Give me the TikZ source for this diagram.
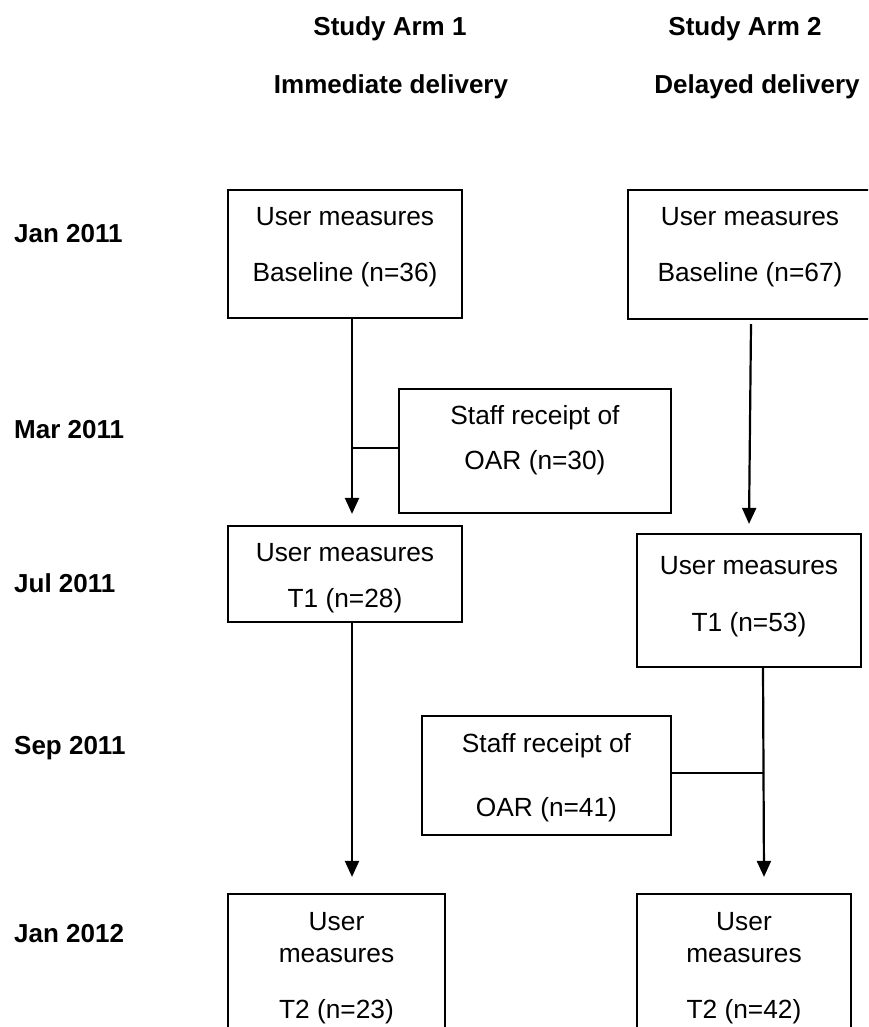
\documentclass[tikz,border=0pt]{standalone}
\usepackage{fontspec}
\setmainfont{Liberation Sans}
\usetikzlibrary{arrows.meta}
\begin{document}
\begin{tikzpicture}[x=1pt,y=-1pt,
  box/.style={draw, line width=2.2pt, rectangle, inner sep=0pt},
  lbl/.style={font=\fontsize{26.3}{31}\selectfont, anchor=base, inner sep=0pt},
  hd/.style={font=\fontsize{26}{31}\selectfont\bfseries, anchor=base, inner sep=0pt},
  datelbl/.style={hd, anchor=base west},
  conn/.style={line width=2.2pt},
  arr/.style={conn, -{Triangle[width=14pt,length=16pt]}}]
\useasboundingbox (0,0) rectangle (868,1027);
\clip (0,0) rectangle (868,1027);
% headings
\node[hd] (h1a) at (390,36) {Study Arm 1};
\node[hd] (h1b) at (391,94) {Immediate delivery};
\node[hd] (h2a) at (745,36) {Study Arm 2};
\node[hd] (h2b) at (757,94) {Delayed delivery};
% dates
\node[datelbl] (d1) at (14,242) {Jan 2011};
\node[datelbl] (d2) at (14,438) {Mar 2011};
\node[datelbl] (d3) at (14,592) {Jul 2011};
\node[datelbl] (d4) at (14,754) {Sep 2011};
\node[datelbl] (d5) at (14,942) {Jan 2012};
% boxes
\node[box, minimum width=234pt, minimum height=128pt] (u1) at (345,254) {};
\node[box, minimum width=244pt, minimum height=129pt] (u2) at (750,254.5) {};
\node[box, minimum width=272pt, minimum height=124pt] (s1) at (535,451) {};
\node[box, minimum width=234pt, minimum height=96pt] (t1l) at (345,574) {};
\node[box, minimum width=224pt, minimum height=133pt] (t1r) at (749,600.5) {};
\node[box, minimum width=249pt, minimum height=119pt] (s2) at (546.5,775.5) {};
\node[box, minimum width=217pt, minimum height=166pt] (t2l) at (336.5,977) {};
\node[box, minimum width=214pt, minimum height=166pt] (t2r) at (744,977) {};
% texts
\node[lbl] (u1a) at (345,225) {User measures};
\node[lbl] (u1b) at (345,281) {Baseline (n=36)};
\node[lbl] (u2a) at (750,225) {User measures};
\node[lbl] (u2b) at (750,281) {Baseline (n=67)};
\node[lbl] (s1a) at (535,424) {Staff receipt of};
\node[lbl] (s1b) at (535,469) {OAR (n=30)};
\node[lbl] (t1la) at (345,561) {User measures};
\node[lbl] (t1lb) at (345,607) {T1 (n=28)};
\node[lbl] (t1ra) at (749,574) {User measures};
\node[lbl] (t1rb) at (749,631) {T1 (n=53)};
\node[lbl] (s2a) at (546.5,752) {Staff receipt of};
\node[lbl] (s2b) at (546.5,816) {OAR (n=41)};
\node[lbl] (t2la) at (336.5,930) {User};
\node[lbl] (t2lb) at (336.5,962) {measures};
\node[lbl] (t2lc) at (336.5,1018) {T2 (n=23)};
\node[lbl] (t2ra) at (744,930) {User};
\node[lbl] (t2rb) at (744,962) {measures};
\node[lbl] (t2rc) at (744,1018) {T2 (n=42)};
% connectors
\draw[arr] ([xshift=7pt]u1.south) -- ([xshift=7pt,yshift=11pt]t1l.north);
\draw[conn] ([yshift=3pt]s1.west) -- ++(-47,0);
\draw[arr] ([xshift=1pt,yshift=-4pt]u2.south) -- ([yshift=9pt]t1r.north);
\draw[arr] ([xshift=7pt]t1l.south) -- ([xshift=15.5pt,yshift=16pt]t2l.north);
\draw[arr] ([xshift=14pt]t1r.south) -- ([xshift=20pt,yshift=16pt]t2r.north);
\draw[conn] ([yshift=2.5pt]s2.east) -- ++(92,0);
\end{tikzpicture}
\end{document}
